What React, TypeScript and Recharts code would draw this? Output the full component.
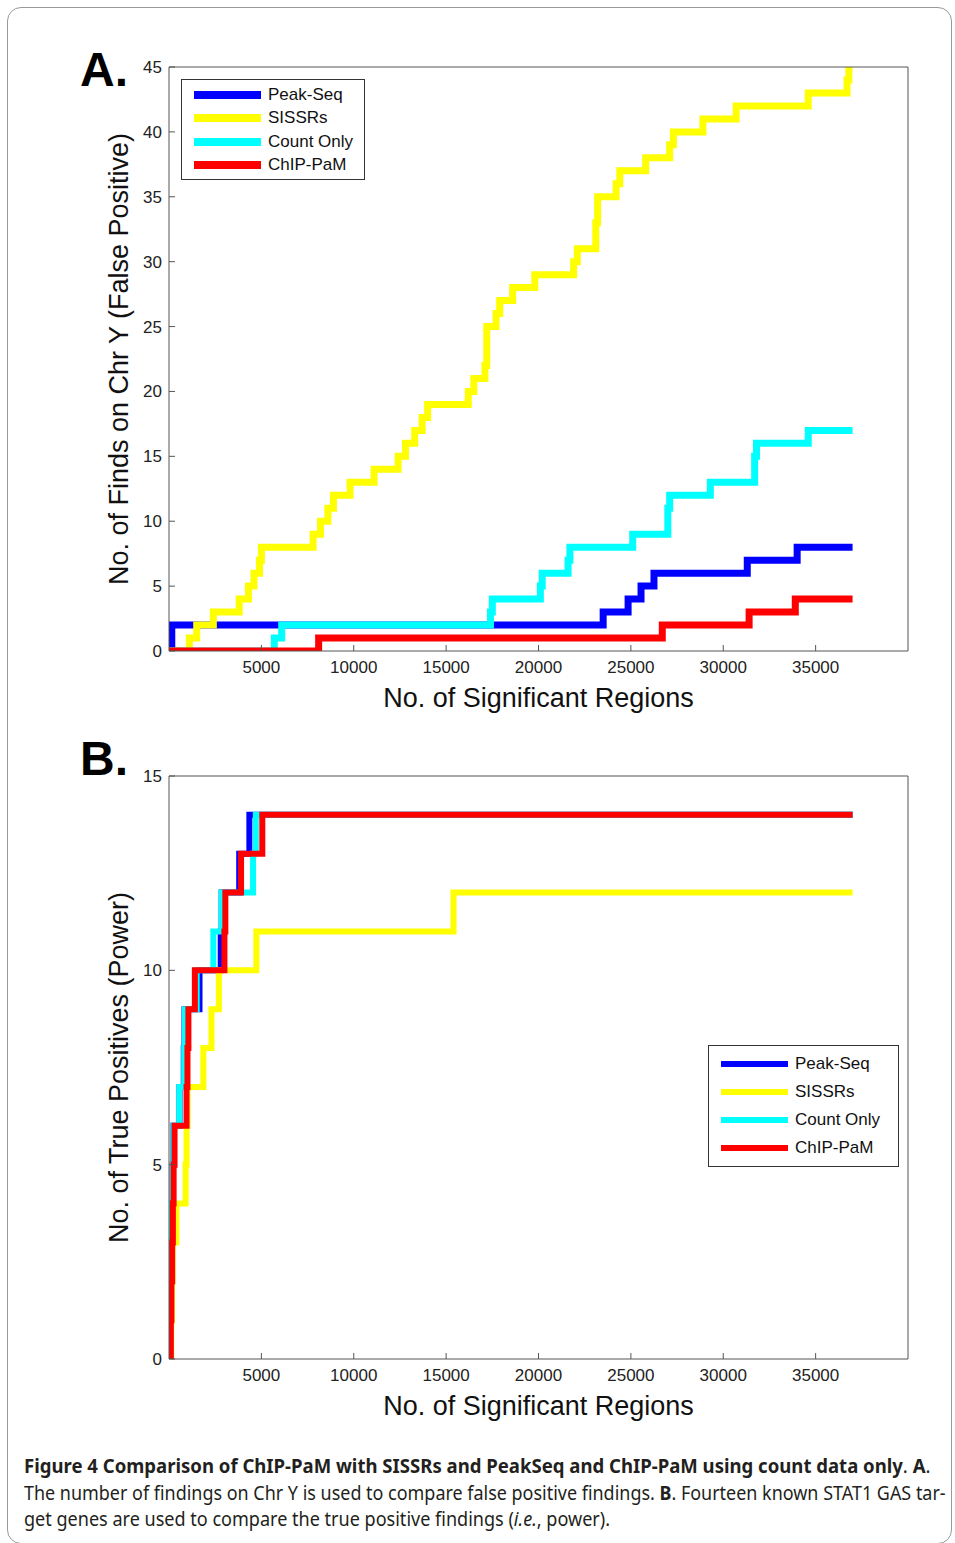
import React, { useLayoutEffect, useRef, useState } from "react";
import { LineChart, Line, XAxis, YAxis, Legend } from "recharts";

// Panel A: hits on chr Y (false positives), step breakpoints
const fpPeakSeqX = [0, 150, 23500, 24850, 25550, 26250, 31300, 34000, 37000];
const fpPeakSeqY = [0, 2, 3, 4, 5, 6, 7, 8, 8];
const fpSissrsX = [
	0, 1100, 1500, 2400, 3800, 4300, 4600, 4900, 5000, 7800, 8200, 8600, 8900, 9800, 11100, 12400, 12800, 13300, 13700,
	14000, 16200, 16500, 17100, 17200, 17700, 17900, 18600, 19800, 21900, 22100, 23100, 23200, 24200, 24400, 25800,
	27100, 27300, 28900, 30700, 34600, 36700, 36800, 37000,
];
const fpSissrsY = [
	0, 1, 2, 3, 4, 5, 6, 7, 8, 9, 10, 11, 12, 13, 14, 15, 16, 17, 18, 19, 20, 21, 22, 25, 26, 27, 28, 29, 30, 31, 33, 35,
	36, 37, 38, 39, 40, 41, 42, 43, 44, 45, 45,
];
const fpCountX = [0, 5700, 6100, 17400, 17500, 20100, 20200, 21600, 21700, 25100, 27000, 27100, 29300, 31700, 31800, 34600, 37000];
const fpCountY = [0, 1, 2, 3, 4, 5, 6, 7, 8, 9, 11, 12, 13, 15, 16, 17, 17];
const fpChipX = [0, 8100, 26700, 31400, 33900, 37000];
const fpChipY = [0, 1, 2, 3, 4, 4];

// Panel B: known STAT1 targets recovered (true positives)
const tpPeakSeqX = [0, 60, 110, 160, 200, 240, 570, 800, 840, 1650, 2800, 2850, 3800, 4350, 37000];
const tpPeakSeqY = [0, 1, 2, 4, 5, 6, 7, 8, 9, 10, 11, 12, 13, 14, 14];
const tpSissrsX = [0, 120, 160, 200, 400, 900, 950, 1000, 1860, 2300, 2700, 4730, 15400, 37000];
const tpSissrsY = [0, 1, 2, 3, 4, 5, 6, 7, 8, 9, 10, 11, 12, 12];
const tpCountX = [0, 60, 110, 160, 200, 240, 560, 820, 860, 1500, 2400, 2850, 4550, 4700, 37000];
const tpCountY = [0, 1, 2, 4, 5, 6, 7, 8, 9, 10, 11, 12, 13, 14, 14];
const tpChipX = [0, 100, 130, 170, 210, 250, 300, 950, 1000, 1050, 1400, 3000, 3050, 3900, 5050, 37000];
const tpChipY = [0, 1, 2, 3, 4, 5, 6, 7, 8, 9, 10, 11, 12, 13, 14, 14];

const xTicks = [5000, 10000, 15000, 20000, 25000, 30000, 35000];
const fpTicks = [0, 5, 10, 15, 20, 25, 30, 35, 40, 45];
const tpTicks = [0, 5, 10, 15];
const seriesNames = ["Peak-Seq", "SISSRs", "Count Only", "ChIP-PaM"];
const seriesColors = ["#0000ff", "#ffff00", "#00ffff", "#ff0000"];

const AXIS_FONT = "'Liberation Sans', Arial, sans-serif";
const FRAME = "#555";

const toPoints = (xs: number[], ys: number[]) => xs.map((x, i) => ({ x, y: ys[i] }));

type PanelProps = {
	top: number;
	marginTop: number;
	marginBottom: number;
	series: { x: number; y: number }[][];
	yMax: number;
	yTicks: number[];
	yLabel: string;
	lineWidth: number;
	legendPos: { left: number; top: number; width: number; height: number };
	legendRow: number;
	legendPad: number;
	legendSwatch: number;
};

function Panel(p: PanelProps) {
	const renderLegend = (props: any) => {
		const items = [...(props.payload || [])].sort(
			(a: any, b: any) => seriesNames.indexOf(a.value) - seriesNames.indexOf(b.value)
		);
		return (
			<div
				style={{
					width: p.legendPos.width,
					height: p.legendPos.height,
					boxSizing: "border-box",
					border: "1px solid #333",
					background: "#fff",
					paddingTop: p.legendPad,
					fontFamily: AXIS_FONT,
					fontSize: 17,
					color: "#111",
				}}
			>
				{items.map((it: any) => (
					<div key={it.value} style={{ display: "flex", alignItems: "center", height: p.legendRow }}>
						<span
							style={{ display: "inline-block", width: 67, height: p.legendSwatch, background: it.color, marginLeft: 12, marginRight: 7 }}
						/>
						<span>{it.value}</span>
					</div>
				))}
			</div>
		);
	};

	return (
		<div style={{ position: "absolute", left: 8, top: p.top }}>
			<LineChart width={940} height={760} margin={{ top: p.marginTop, right: 39, bottom: p.marginBottom, left: 59 }}>
				<XAxis
					xAxisId="b"
					type="number"
					dataKey="x"
					domain={[0, 40000]}
					allowDataOverflow
					ticks={xTicks}
					height={92}
					tickSize={-6}
					tickMargin={16}
					axisLine={{ stroke: FRAME }}
					tickLine={{ stroke: FRAME }}
					tick={{ fontSize: 17, fontFamily: AXIS_FONT, fill: "#222" }}
					label={{ value: "No. of Significant Regions", position: "center", fontSize: 27, fontFamily: AXIS_FONT, fill: "#111" }}
				/>
				<XAxis
					xAxisId="t"
					orientation="top"
					type="number"
					dataKey="x"
					domain={[0, 40000]}
					allowDataOverflow
					ticks={xTicks}
					height={1}
					tickSize={-6}
					tick={false}
					axisLine={{ stroke: FRAME }}
					tickLine={{ stroke: FRAME }}
				/>
				<YAxis
					yAxisId="l"
					type="number"
					domain={[0, p.yMax]}
					allowDataOverflow
					ticks={p.yTicks}
					width={102}
					tickSize={-6}
					tickMargin={13}
					axisLine={{ stroke: FRAME }}
					tickLine={{ stroke: FRAME }}
					tick={{ fontSize: 17, fontFamily: AXIS_FONT, fill: "#222" }}
					label={{ value: p.yLabel, position: "center", angle: -90, fontSize: 27, fontFamily: AXIS_FONT, fill: "#111" }}
				/>
				<YAxis
					yAxisId="r"
					orientation="right"
					type="number"
					domain={[0, p.yMax]}
					allowDataOverflow
					ticks={p.yTicks}
					width={1}
					tickSize={-6}
					tick={false}
					axisLine={{ stroke: FRAME }}
					tickLine={{ stroke: FRAME }}
				/>
				<Legend
					layout="vertical"
					align="center"
					verticalAlign="middle"
					content={renderLegend}
					wrapperStyle={{ left: p.legendPos.left, top: p.legendPos.top, width: p.legendPos.width, height: p.legendPos.height }}
				/>
				{p.series.map((pts, i) => (
					<Line
						key={seriesNames[i]}
						xAxisId="b"
						yAxisId="l"
						data={pts}
						dataKey="y"
						name={seriesNames[i]}
						type="stepAfter"
						stroke={seriesColors[i]}
						strokeWidth={p.lineWidth}
						dot={false}
						activeDot={false}
						isAnimationActive={false}
					/>
				))}
			</LineChart>
		</div>
	);
}

function FitLine({ width, top, children, style }: { width: number; top: number; children: React.ReactNode; style?: React.CSSProperties }) {
	const ref = useRef<HTMLSpanElement>(null);
	const [sx, setSx] = useState(1);
	useLayoutEffect(() => {
		if (ref.current) setSx(width / ref.current.offsetWidth);
	}, [width]);
	return (
		<div style={{ position: "absolute", left: 24, top, whiteSpace: "nowrap", ...style }}>
			<span ref={ref} style={{ display: "inline-block", transform: `scaleX(${sx})`, transformOrigin: "left" }}>
				{children}
			</span>
		</div>
	);
}

export default function App() {
	const capStyle: React.CSSProperties = { fontFamily: "'Noto Sans', 'Open Sans', sans-serif", fontSize: 19, lineHeight: "26px", color: "#231f20" };
	const panelLetter: React.CSSProperties = {
		position: "absolute",
		left: 80,
		fontFamily: AXIS_FONT,
		fontWeight: "bold",
		fontSize: 48,
		lineHeight: "48px",
		color: "#000",
	};

	return (
		<div style={{ position: "absolute", left: 0, top: 0, width: 955, height: 1543, overflow: "hidden", background: "#fff" }}>
			<div
				style={{
					position: "absolute",
					left: 7,
					top: 7,
					width: 945,
					height: 1537,
					boxSizing: "border-box",
					border: "1px solid #999",
					borderRadius: 14,
				}}
			/>
			<Panel
				top={8}
				marginTop={58}
				marginBottom={25}
				series={[toPoints(fpPeakSeqX, fpPeakSeqY), toPoints(fpSissrsX, fpSissrsY), toPoints(fpCountX, fpCountY), toPoints(fpChipX, fpChipY)]}
				yMax={45}
				yTicks={fpTicks}
				yLabel="No. of Finds on Chr Y (False Positive)"
				lineWidth={7}
				legendPos={{ left: 173, top: 71, width: 184, height: 101 }}
				legendRow={23.5}
				legendPad={3}
				legendSwatch={8}
			/>
			<Panel
				top={708}
				marginTop={67}
				marginBottom={17}
				series={[toPoints(tpPeakSeqX, tpPeakSeqY), toPoints(tpSissrsX, tpSissrsY), toPoints(tpCountX, tpCountY), toPoints(tpChipX, tpChipY)]}
				yMax={15}
				yTicks={tpTicks}
				yLabel="No. of True Positives (Power)"
				lineWidth={6}
				legendPos={{ left: 700, top: 337, width: 191, height: 122 }}
				legendRow={28}
				legendPad={4}
				legendSwatch={6}
			/>
			<div style={{ ...panelLetter, top: 46 }}>A.</div>
			<div style={{ ...panelLetter, top: 735 }}>B.</div>

			<FitLine width={906} top={1453} style={capStyle}>
				<b>Figure 4 Comparison of ChIP-PaM with SISSRs and PeakSeq and ChIP-PaM using count data only</b>. <b>A</b>.
			</FitLine>
			<FitLine width={922} top={1480} style={capStyle}>
				The number of findings on Chr Y is used to compare false positive findings. <b>B</b>. Fourteen known STAT1 GAS tar-
			</FitLine>
			<FitLine width={586} top={1506} style={capStyle}>
				get genes are used to compare the true positive findings (<i>i.e.</i>, power).
			</FitLine>
		</div>
	);
}
